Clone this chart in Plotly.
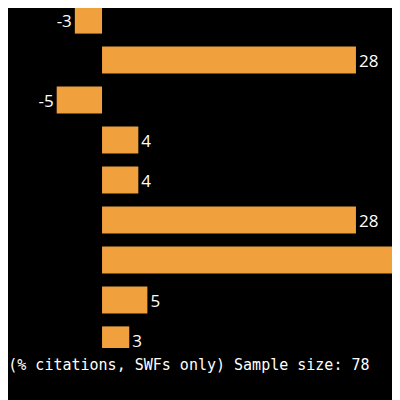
import plotly.graph_objects as go

categories = ["A", "B", "C", "D", "E", "F", "G", "H", "I"]
values = [-3, 28, -5, 4, 4, 28, 36, 5, 3]
labels = ["-3", "28", "-5", "4", "4", "28", "36", "5", "3"]

fig = go.Figure(go.Bar(
    x=values, y=list(range(len(categories))), orientation="h",
    marker=dict(color="#F0A03C", line=dict(width=0)),
    text=labels, textposition="outside", cliponaxis=True,
    textfont=dict(color="white", size=17, family="Open Sans"),
    width=0.68,
))
fig.update_layout(
    width=400, height=400, paper_bgcolor="black", plot_bgcolor="black",
    margin=dict(l=0, r=0, t=0, b=60), showlegend=False,
    xaxis=dict(range=[-10.37, 33.74], visible=False),
    yaxis=dict(range=[8.2, -0.3], visible=False),
    annotations=[dict(text="decrease)(% citations, SWFs only) Sample size: 78",
                      xref="paper", yref="paper", x=0.91, y=0.0, yshift=-17,
                      xanchor="right", yanchor="middle", showarrow=False,
                      font=dict(color="white", size=15, family="DejaVu Sans Mono"))],
)
fig.write_html("out.html")
